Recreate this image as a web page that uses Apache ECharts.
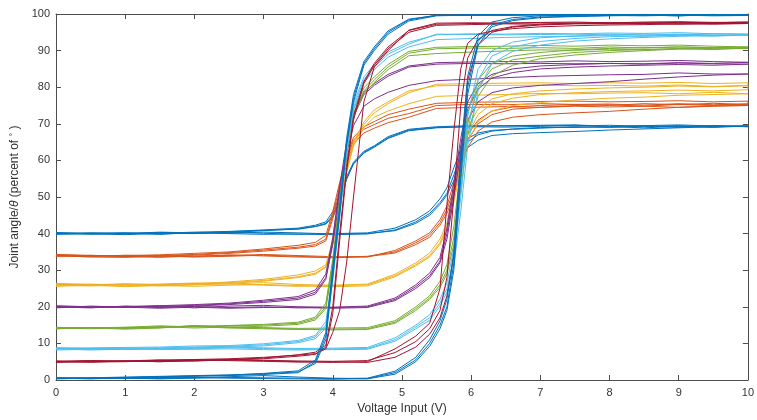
<!DOCTYPE html>
<html lang="en">
<head>
	<meta charset="utf-8">
	<title>Joint angle vs voltage</title>
	<script src="https://cdn.jsdelivr.net/npm/echarts@6/dist/echarts.min.js"></script>
	<style type="text/css">
		html, body {margin:0;padding:0;background:#fff}
		#chart {width:757px;height:420px}
	</style>
</head>
<body>
	<div id="chart"></div>
	<script>
		<!--voltage steps: rising sweep and falling sweep-->
		var voltUp = [0,0.5,1,1.5,2,2.5,3,3.5,4,4.5,4.9,5.2,5.4,5.55,5.65,5.75,5.85,5.95,6.1,6.3,6.6,7,7.5,8,8.5,9,9.5,10];
		var voltDown = [10,9.5,9,8.5,8,7.5,7,6.5,6,5.5,5.1,4.8,4.6,4.45,4.3,4.2,4.1,4.0,3.9,3.75,3.5,3,2.5,2,1.5,1,0.5,0];

		<!--joint angle, three runs per start level-->
		var blue40Up = [
			[40,39.8,40,39.9,40.2,40,39.8,39.9,39.7,39.9,41,43.2,45.5,48.5,51,56,61.5,65,67,68,68.6,69,69,69.2,68.9,69.3,69,69.4],
			[40.3,40,39.7,40.1,40,40.4,40.1,39.8,40,40.2,41.5,43.8,46.2,49.5,52.5,58,63,66,67.5,68.2,68.5,68.8,69.2,69,69.4,69.1,69.5,69.2],
			[39.8,40.1,40.2,39.8,40.3,40.1,40.4,40.2,39.9,40,40.8,42.8,45,48,50.5,54.5,60,63.5,65.5,66.8,67.3,67.6,67.9,68.3,68.6,68.9,69.2,69.4]
		];
		var blue40Down = [
			[69.6,69.2,69.5,69.3,69.6,69.4,69.5,69.4,69.5,69.2,68.5,66.5,64,62.5,59.5,55.5,50,46,43.2,42.3,41.5,41,40.6,40.4,40.1,40.2,40,40.2],
			[69.3,69.5,69.1,69.4,69.2,69.6,69.3,69.1,69.2,68.9,68.1,66,63.6,62,59,55,49,45,42.8,42,41.3,40.8,40.3,40.2,40.4,40,40.1,39.9],
			[69.8,69.4,69.7,69.5,69.3,69.7,69.6,69.5,69.3,69,68.3,66.2,63.8,62.2,59.2,54.8,48.5,44.5,42.6,41.9,41.2,40.9,40.5,40.1,40.3,39.9,40.2,40]
		];
		var orange34Up = [
			[34,33.6,33.5,33.8,33.7,34.2,33.9,33.6,33.5,33.8,35,37.5,39.6,43,46.5,52,60,65.5,70,72.5,74,74.5,75,75.2,74.8,75.3,75,75.4],
			[34.3,34,33.8,33.5,33.9,34,34.3,34,33.7,33.6,35.4,38,40.2,43.8,47.5,54,62,67,71,73.5,74.6,75,75.3,75,75.5,75.2,75.6,75.3],
			[33.8,34.1,33.7,33.9,33.6,33.8,34.1,33.8,33.4,33.7,34.7,37,39,42.3,45.5,50.5,58,63.5,68,70.5,71.8,72.5,73,73.4,74,74.5,74.8,75]
		];
		var orange34Down = [
			[75.6,75.2,75.5,75.1,75.4,75.3,75.5,75.2,75.3,75,72.8,71.5,69.8,68.5,65.5,60,53,45,38.5,37,36.3,35.5,34.8,34.3,34,33.8,34,34.2],
			[76.2,76,76.3,76.1,76,76.2,76.1,76,75.9,75.6,74,72.5,70.6,69.2,66.3,61,54,46,39.5,37.6,36.8,35.8,35,34.6,34.2,34,33.8,34],
			[74.6,74.9,74.5,74.8,74.6,74.8,74.5,74.7,74.5,74.2,71.8,70.3,68.8,67.5,64.5,59,51.5,44,38,36.6,36,35.2,34.6,34.1,33.9,34.1,33.7,33.9]
		];
		var yellow26Up = [
			[26,25.8,26.2,25.7,26,26.3,25.9,25.6,25.8,26,28.5,31.5,34,37.5,42,50,60,67,72.5,75.5,77,78,78.5,78.8,79,79.2,79,79.3],
			[26.4,26.1,25.9,26.2,26.5,26.2,26.6,26.1,25.9,26.2,28.9,32,34.7,38.5,43,52,62,69,74,76.8,78.2,79,79.5,79.8,80,80.3,80.1,80.4],
			[25.6,25.9,25.5,25.8,25.6,25.9,26.1,25.8,25.5,25.7,28.2,31.2,33.6,37,41,48.5,58,65,70.5,73.5,75,75.8,76.5,77,77.3,77.8,78,78.2]
		];
		var yellow26Down = [
			[80.5,80.2,80.6,80.3,80.5,80.4,80.6,80.5,80.5,80.4,79,76,73.8,70.5,65,57.4,48,38,31.5,29.8,28.7,27.5,26.8,26.3,26,25.9,26.2,26],
			[81.2,81,81.3,81.1,81.2,81,81.2,81.1,81,80.8,78.5,75.5,73,69.8,64.5,57,47.5,37.5,31,29.2,28.2,27.2,26.6,26.4,26.1,26.3,26,26.2],
			[78.3,78.6,78.2,78.5,78.4,78.2,78.3,78,77.8,77.5,75.5,73.5,71.8,69,64,56.5,47,37,30.8,28.9,28,27,26.4,26.1,25.8,26,25.7,25.9]
		];
		var purple20Up = [
			[20,19.7,20.2,19.8,20.1,19.8,20,19.7,19.8,20,22,25.5,28.5,32.5,40,52,64,74,79.5,82.5,84,85,85.5,85.8,86,86.2,86,86.3],
			[20.3,20,19.8,20.3,19.7,20.2,20.4,20,19.9,20.2,22.4,26,29.2,33.5,41.5,54,66,76,81,83.5,85,85.8,86.2,86.5,86.4,86.7,86.5,86.8],
			[19.7,20.2,19.9,19.6,19.9,19.6,19.8,19.9,19.6,19.8,21.7,25,28,32,38.5,50,62,71,76,78.5,79.8,80.5,81,81.5,82.2,82.8,83.3,83.6]
		];
		var purple20Down = [
			[86.6,86.4,86.6,86.3,86.5,86.4,86.5,86.4,86.5,86.3,85.5,83,80.5,78,72,64,52,38,28,24,22.4,21.5,20.8,20.4,20.1,20,19.8,20],
			[87.2,87,87.3,87.1,87,87.2,86.9,87,86.9,86.7,85.8,83.5,81,78.6,72.8,65,53,39,29,24.6,22.8,21.8,21,20.6,20.3,20.1,20,19.9],
			[83.8,83.6,83.9,83.5,83.4,83.2,83,82.6,82.2,81.8,80.5,78.6,76.8,74.8,69.5,62,50,37,27.5,23.5,22,21.2,20.6,20.2,19.9,20.1,19.8,20.1]
		];
		var green14Up = [
			[14.2,14,14.4,14.3,14.6,14.2,14,13.8,13.9,14,15.8,19.5,22.4,26,30,39,55,70,80,85,87.5,88.5,89.5,90,90.3,90.5,90.4,90.6],
			[14,14.3,14.1,14.6,14.2,14.5,14.3,14.1,14.2,14.3,16.2,20,23,27,31.5,42,58,73,82,86.5,88.5,89.5,90.2,90.6,90.8,91,90.8,91],
			[14.4,14.2,13.9,14.2,14.8,14.4,14.2,13.9,13.7,13.8,15.5,19,22,25.3,29,37,52,67,77.5,83,86,87.8,88.8,89.5,90,90.4,90.6,90.8]
		];
		var green14Down = [
			[91,90.8,91,90.7,91,90.6,90.8,90.6,90.7,90.5,89.3,85.5,82,79,73,63,48,32,20,16.8,15.5,15,14.8,14.7,14.5,14.3,14.2,14.1],
			[91.4,91.2,91.5,91.3,91.5,91.2,91.4,91.2,91.1,90.9,89.8,86.2,82.8,79.8,74,64,49.5,33,21,17.2,15.8,15.2,14.9,14.5,14.8,14.4,14.3,14.2],
			[90.5,90.3,90.6,90.2,90.4,90.1,90.2,89.9,89.6,89.2,88.6,84.8,81.3,78.2,72.2,62,46.5,31,19.5,16.4,15.2,14.7,14.4,14.9,14.3,14.1,14.3,14]
		];
		var cyan9Up = [
			[8.5,8.2,8.4,8.6,8.5,8.8,8.6,8.4,8.5,8.6,11,14.5,17,21,25,33,50,68,82,88.5,91,92.5,93.3,93.8,94,94.2,94,94.3],
			[8.8,8.6,8.3,8.5,8.9,9,8.8,8.6,8.7,8.9,11.5,15,17.8,22,26.5,36,54,72,85,90,92.3,93.5,94,94.3,94.5,94.4,94.6,94.5],
			[8.2,8.4,8.7,8.3,8.4,8.5,8.3,8.2,8.3,8.4,10.6,14,16.3,20.2,24,31,46,64,79,86.5,89.8,91.5,92.6,93.2,93.6,93.9,94.1,94.2]
		];
		var cyan9Down = [
			[94.5,94.3,94.5,94.2,94.5,94.3,94.4,94.3,94.4,94.5,91.8,89,85.5,82,74.6,63,46,28,15,11.8,10.5,9.6,9.2,9,8.8,8.7,8.6,8.8],
			[94.8,94.6,94.9,94.7,94.8,94.6,94.7,94.5,94.6,94.3,92.3,89.6,86.2,82.8,75.5,64,47.5,29,16,12.2,10.8,9.9,9.4,9.3,9,8.9,8.8,8.5],
			[94.1,94,94.2,93.9,94.1,93.9,93.8,93.6,93.3,93,91,88.2,84.8,81.2,73.8,62,44.5,27,14.2,11.3,10.2,9.3,9,8.7,8.6,8.5,8.4,8.6]
		];
		var red5Up = [
			[4.8,5,5.2,5,5.4,5.5,5.3,5,4.8,5,8.5,12,15.5,25,48,68,85,92,94.5,95.3,96,96.5,96.8,97,97.1,97.3,97.2,97.4],
			[5,5.3,5.1,5.4,5.2,5.6,5.4,5.2,5.1,5.3,7.5,10.5,14,19,28,50,75,88,93,95.5,96.6,97.2,97.5,97.6,97.5,97.7,97.6,97.8],
			[5.2,4.9,5,5.3,5.6,5.3,5.1,4.9,5,4.8,6.2,9,12.5,17,23,34,60,82,91.5,95,96.4,97,97.3,97.4,97.6,97.5,97.7,97.6]
		];
		var red5Down = [
			[97.6,97.4,97.6,97.5,97.6,97.5,97.6,97.5,97.6,97.5,95.6,90,85.5,76,50,32,19,13,8.5,7.2,6.8,6.2,5.8,5.6,5.3,5.1,5,5],
			[97.9,97.7,97.9,97.8,97.6,97.8,97.7,97.5,97.4,97.2,95.5,91,86.5,81.5,72,58,40,20,9.5,7.6,6.9,6,5.6,5.4,5.5,5.2,5.3,5.1],
			[97.3,97.5,97.2,97.4,97.3,97.4,97.2,97.3,97.1,96.9,95,90.5,86,81,71,57,38,18,9,7,6.5,5.8,5.5,5.2,5,5.2,4.9,5.1]
		];
		var blue0Up = [
			[0.5,0.3,0.6,0.4,0.7,0.5,0.4,0.3,0.2,0.4,2,5.5,10,15,20,32,58,80,92.5,97,98.5,99.2,99.4,99.6,99.5,99.7,99.5,99.6],
			[0.3,0.5,0.4,0.7,0.6,0.9,1.2,0.8,0.5,0.3,1.6,5,9.2,14,19,30,55,78,91.5,96.5,98.2,99,99.3,99.5,99.7,99.5,99.8,99.6],
			[0.6,0.4,0.5,0.3,0.5,0.7,0.6,0.5,0.4,0.5,2.4,6.2,11,16.2,22,35,62,83,94,97.8,99,99.5,99.7,99.8,99.6,99.8,99.7,99.9]
		];
		var blue0Down = [
			[99.8,99.9,99.7,99.9,99.8,99.9,99.8,99.9,99.8,99.7,98.4,95,90.5,86.5,77,65,46,30,12,5,2,1.5,1.2,1,0.8,0.7,0.6,0.5],
			[99.6,99.8,99.5,99.7,99.9,99.6,99.7,99.6,99.7,99.5,98.1,94.5,90,86,76,64,45,28,11,4.5,2.2,1.7,1.4,1.2,1,0.8,0.6,0.4],
			[100,99.7,99.9,99.8,99.6,99.8,99.9,99.7,99.6,99.6,98.6,95.4,91,87,78,66,47.5,31,13,5.5,2.5,1.8,1.3,1.1,0.9,0.6,0.5,0.6]
		];

		var groups = [
			{up: blue40Up, down: blue40Down, color: '#0072BD'},
			{up: orange34Up, down: orange34Down, color: '#D95319'},
			{up: yellow26Up, down: yellow26Down, color: '#EDB120'},
			{up: purple20Up, down: purple20Down, color: '#7E2F8E'},
			{up: green14Up, down: green14Down, color: '#77AC30'},
			{up: cyan9Up, down: cyan9Down, color: '#4DBEEE'},
			{up: red5Up, down: red5Down, color: '#A2142F'},
			{up: blue0Up, down: blue0Down, color: '#0072BD'}
		];

		<!--one closed loop per run: rising sweep then falling sweep-->
		var series = [];
		groups.forEach(function(g){
			for (var k = 0; k < g.up.length; k++) {
				var pts = [];
				for (var i = 0; i < voltUp.length; i++) pts.push([voltUp[i], g.up[k][i]]);
				for (var j = 0; j < voltDown.length; j++) pts.push([voltDown[j], g.down[k][j]]);
				series.push({
					type: 'line',
					data: pts,
					showSymbol: false,
					silent: true,
					lineStyle: {color: g.color, width: 1},
					itemStyle: {color: g.color}
				});
			}
		});

		var axisColor = '#4d4d4d';
		var labelColor = '#333';
		var myChart = echarts.init(document.getElementById('chart'));
		var option = {
			animation: false,
			textStyle: {fontFamily: 'Liberation Sans, Arial, sans-serif'},
			grid: {left: 56, right: 4, top: 14, bottom: 40},
			xAxis: [
				{
					type: 'value', min: 0, max: 10, interval: 1,
					name: 'Voltage Input (V)', nameLocation: 'middle', nameGap: 22,
					nameTextStyle: {color: labelColor, fontSize: 12},
					axisLine: {onZero: false, lineStyle: {color: axisColor}},
					axisTick: {inside: true, length: 5, lineStyle: {color: axisColor}},
					axisLabel: {color: labelColor, fontSize: 11, margin: 7},
					splitLine: {show: false}
				},
				{
					type: 'value', min: 0, max: 10, interval: 1, position: 'top',
					axisLine: {onZero: false, lineStyle: {color: axisColor}},
					axisTick: {inside: true, length: 5, lineStyle: {color: axisColor}},
					axisLabel: {show: false},
					splitLine: {show: false}
				}
			],
			yAxis: [
				{
					type: 'value', min: 0, max: 100, interval: 10,
					name: 'Joint angle/{it|θ} (percent of {sup|°} )', nameLocation: 'middle', nameGap: 28,
					nameTextStyle: {
						color: labelColor, fontSize: 12,
						rich: {
							it: {fontStyle: 'italic', fontSize: 12, color: labelColor},
							sup: {fontSize: 9, color: labelColor, verticalAlign: 'top'}
						}
					},
					axisLine: {show: true, onZero: false, lineStyle: {color: axisColor}},
					axisTick: {show: true, inside: true, length: 5, lineStyle: {color: axisColor}},
					axisLabel: {color: labelColor, fontSize: 11, margin: 6},
					splitLine: {show: false}
				},
				{
					type: 'value', min: 0, max: 100, interval: 10, position: 'right',
					axisLine: {show: true, onZero: false, lineStyle: {color: axisColor}},
					axisTick: {show: true, inside: true, length: 5, lineStyle: {color: axisColor}},
					axisLabel: {show: false},
					splitLine: {show: false}
				}
			],
			series: series
		};
		myChart.setOption(option);
	</script>
</body>
</html>
